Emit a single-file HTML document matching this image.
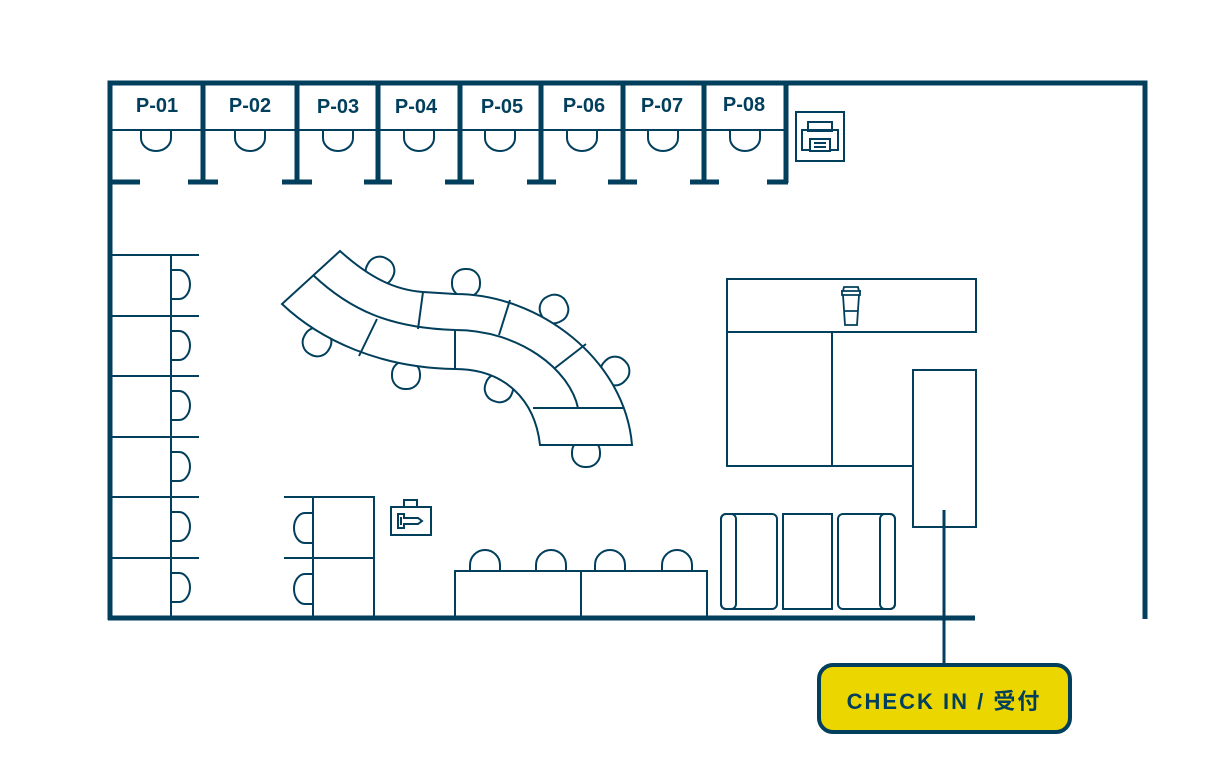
<!DOCTYPE html>
<html><head><meta charset="utf-8"><style>html,body{margin:0;padding:0;background:#fff}svg{display:block}</style></head>
<body>
<svg width="1220" height="776" viewBox="0 0 1220 776" xmlns="http://www.w3.org/2000/svg">
<g fill="none" stroke="#023f5c" stroke-width="2">
<!-- outer walls -->
<path d="M110 620 V83 H1145 V619" stroke-width="5"/>
<path d="M108 618 H975" stroke-width="5"/>
<!-- booth dividers -->
<g stroke-width="5">
<path d="M203 83V183M297 83V183M378 83V183M460 83V183M541 83V183M623 83V183M704 83V183M786 83V183"/>
<path d="M110 182H140M188 182H218M282 182H312M364 182H392M445 182H474M527 182H556M608 182H637M690 182H719M767 182H788"/>
</g>
<path d="M110 130H786"/>
<g>
<path d="M141 130v8a15 13 0 0 0 30 0v-8"/>
<path d="M235 130v8a15 13 0 0 0 30 0v-8"/>
<path d="M323 130v8a15 13 0 0 0 30 0v-8"/>
<path d="M404 130v8a15 13 0 0 0 30 0v-8"/>
<path d="M485 130v8a15 13 0 0 0 30 0v-8"/>
<path d="M567 130v8a15 13 0 0 0 30 0v-8"/>
<path d="M648 130v8a15 13 0 0 0 30 0v-8"/>
<path d="M730 130v8a15 13 0 0 0 30 0v-8"/>
</g>
<!-- printer -->
<rect x="796" y="112" width="48" height="49"/>
<rect x="808" y="122" width="24" height="9"/>
<rect x="802" y="130" width="36" height="20"/>
<rect x="810" y="139" width="20" height="12" fill="#fff"/>
<path d="M814 143h12M814 147h12"/>
<!-- left desks -->
<path d="M171 255V618"/>
<path d="M110 255H199M110 316H199M110 376H199M110 437H199M110 497H199M110 558H199"/>
<path d="M171 270h8a11 14.5 0 0 1 0 29h-8M171 331h8a11 14.5 0 0 1 0 29h-8M171 391h8a11 14.5 0 0 1 0 29h-8M171 452h8a11 14.5 0 0 1 0 29h-8M171 512h8a11 14.5 0 0 1 0 29h-8M171 573h8a11 14.5 0 0 1 0 29h-8"/>
<!-- mid-left desks -->
<path d="M313 497H374V618M313 497V618M313 558H374M284 497H313M284 558H313"/>
<path d="M313 513h-8a11 15 0 0 0 0 30h8M313 574h-8a11 15 0 0 0 0 30h8"/>
<!-- key icon -->
<rect x="391" y="507" width="40" height="28"/>
<rect x="404" y="500" width="13" height="7"/>
<path d="M398 514v14h6v-4h14l4-3-4-3h-14v-4z"/>
<path d="M401 517v8"/>
<!-- bottom tables -->
<path d="M470 571v-6a15 15 0 0 1 30 0v6M536 571v-6a15 15 0 0 1 30 0v6M595 571v-6a15 15 0 0 1 30 0v6M662 571v-6a15 15 0 0 1 30 0v6"/>
<rect x="455" y="571" width="126" height="47"/>
<rect x="581" y="571" width="126" height="47"/>
<!-- curved table chairs -->
<g fill="#fff">
<rect x="366" y="257" width="28" height="28" rx="13" transform="rotate(30 380 271)"/>
<rect x="452" y="269" width="28" height="28" rx="13"/>
<rect x="540" y="295" width="28" height="28" rx="13" transform="rotate(-25 554 309)"/>
<rect x="601" y="357" width="28" height="28" rx="13" transform="rotate(-45 615 371)"/>
<rect x="303" y="328" width="28" height="28" rx="13" transform="rotate(30 317 342)"/>
<rect x="392" y="361" width="28" height="28" rx="13"/>
<rect x="485" y="374" width="28" height="28" rx="13" transform="rotate(20 499 388)"/>
<rect x="572" y="439" width="28" height="28" rx="13"/>
</g>
<!-- curved table -->
<path fill="#fff" d="M340 251 C370 278 395 290 423 292 L455 294 C540 294 625 360 632 445 L540 445 C535 400 505 369 455 369 C380 368 320 340 282 304 Z"/>
<path d="M313 275 C350 310 390 328 455 330 C520 330 570 370 578 408"/>
<path d="M533 408H623"/>
<path d="M423 292L418 329M377 319L359 356M455 330V369M510 300L499 335M586 344L555 368"/>
<!-- right counters -->
<rect x="727" y="279" width="249" height="53"/>
<path d="M727 332V466H913M832 332V466"/>
<rect x="913" y="370" width="63" height="157"/>
<!-- coffee cup -->
<path d="M841 291h20M843 291l1-4h14l1 4M842 291v4h18v-4M843 295l2 30h12l2-30M844 311h14" stroke-width="1.8"/>
<!-- sofas -->
<rect x="721" y="514" width="56" height="95" rx="5"/>
<rect x="721" y="514" width="15" height="95" rx="5"/>
<rect x="783" y="514" width="49" height="95"/>
<rect x="838" y="514" width="57" height="95" rx="5"/>
<rect x="880" y="514" width="15" height="95" rx="5"/>
<!-- connector -->
<path d="M944 510V665" stroke-width="3"/>
</g>
<g font-family="'Liberation Sans','Noto Sans CJK JP',sans-serif" font-weight="bold" font-size="20" fill="#023f5c" text-anchor="middle">
<text x="157" y="112">P-01</text>
<text x="250" y="112">P-02</text>
<text x="338" y="113">P-03</text>
<text x="416" y="113">P-04</text>
<text x="502" y="113">P-05</text>
<text x="584" y="112">P-06</text>
<text x="662" y="112">P-07</text>
<text x="744" y="111">P-08</text>
</g>
<rect x="819" y="665" width="251" height="67" rx="14" fill="#ecd600" stroke="#023f5c" stroke-width="4"/>
<text x="944" y="709" text-anchor="middle" font-family="'Liberation Sans','Noto Sans CJK JP',sans-serif" font-weight="bold" font-size="22" letter-spacing="2" fill="#023f5c">CHECK IN / 受付</text>
</svg>
</body></html>
